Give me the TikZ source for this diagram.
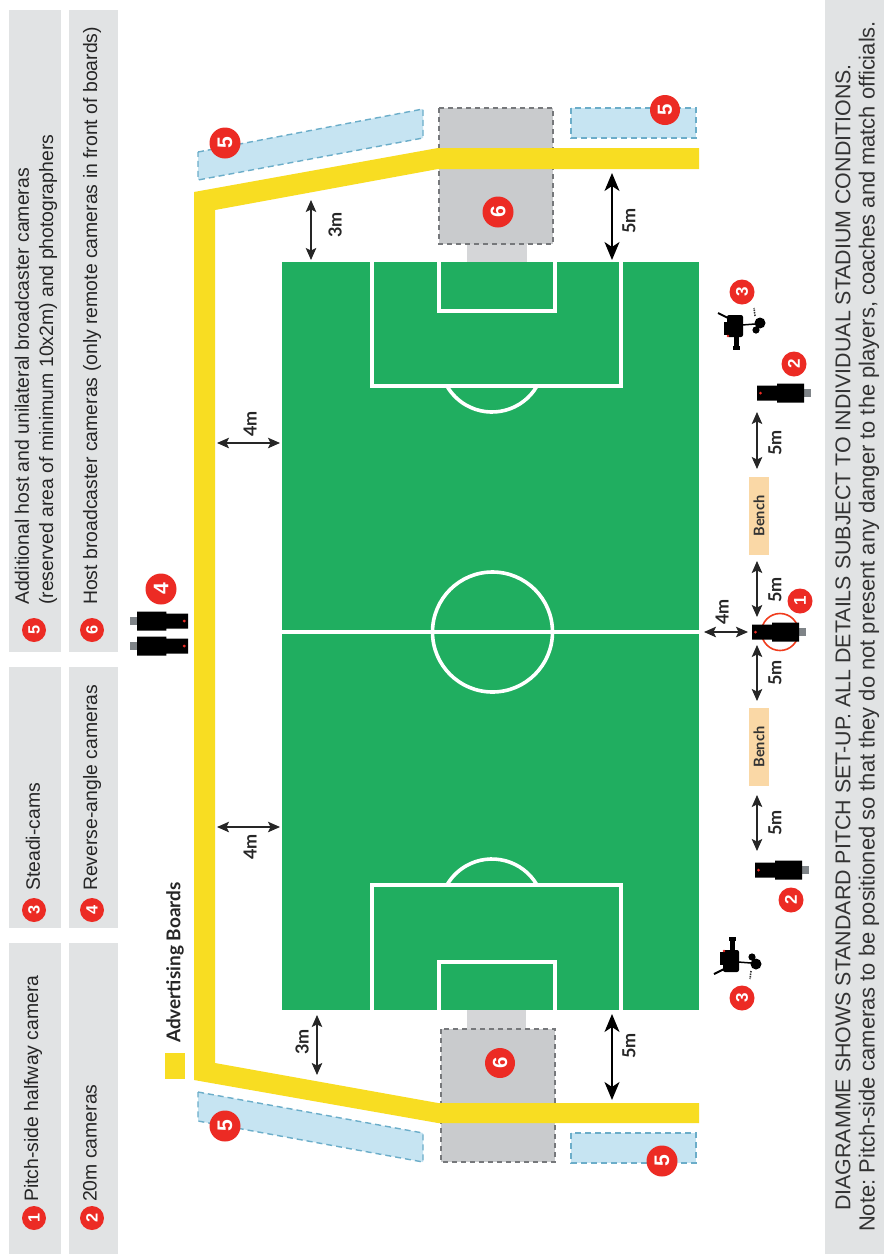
\documentclass[tikz,border=0pt]{standalone}
\usepackage{fontspec}
\setmainfont{Liberation Sans}
\newfontfamily\lab{Lato}
\usetikzlibrary{arrows.meta}
\frenchspacing
\definecolor{pitch}{HTML}{20AE60}
\definecolor{board}{HTML}{F8DD22}
\definecolor{panel}{HTML}{E1E3E4}
\definecolor{zoneb}{HTML}{C6E4F2}
\definecolor{zonebd}{HTML}{6BADC9}
\definecolor{zoneg}{HTML}{C9CBCD}
\definecolor{zonegd}{HTML}{76787B}
\definecolor{stub}{HTML}{D5D6D8}
\definecolor{benchc}{HTML}{FAD8A6}
\definecolor{badgec}{HTML}{EC2B24}
\definecolor{camg}{HTML}{7F8488}
\tikzset{
  panelbox/.style={fill=panel,draw=none},
  pline/.style={draw=white,line width=3.6pt},
  bluezone/.style={fill=zoneb,draw=zonebd,line width=1.4pt,dash pattern=on 6pt off 4pt},
  grayzone/.style={fill=zoneg,draw=zonegd,line width=2.2pt,dash pattern=on 5pt off 4pt},
  badge/.style={circle,fill=badgec,text=white,inner sep=0pt,minimum size=#1 pt,rotate=90,font=\bfseries\fontsize{\fpeval{0.68*#1}}{#1}\selectfont},
  legtext/.style={rotate=90,anchor=west,inner sep=0pt,text=black!85,font=\fontsize{19.4}{22}\selectfont},
  notetext/.style={rotate=90,anchor=west,inner sep=0pt,text=black!80,font=\fontsize{#1}{24}\selectfont},
  dimlabel/.style={rotate=90,inner sep=0pt,text=black!85,font=\lab\bfseries\fontsize{18}{20}\selectfont},
  dim/.style={{Stealth[length=12pt,width=10.5pt,inset=2.5pt]}-{Stealth[length=12pt,width=10.5pt,inset=2.5pt]},line width=1.3pt,draw=black!85},
  dimbig/.style={{Stealth[length=18pt,width=15pt,inset=5pt]}-{Stealth[length=18pt,width=15pt,inset=5pt]},line width=1.8pt,draw=black},
  benchbox/.style={fill=benchc,rotate=90,inner sep=0pt,minimum width=78pt,minimum height=20pt,text=black!80,font=\lab\bfseries\fontsize{14.6}{16}\selectfont},
}
% camera: #1 = lens-end x, #2 = centre y, #3 = direction and length factor
\newcommand{\cam}[3]{%
  \begin{scope}[shift={(#1,#2)},xscale=#3]
    \fill[camg] (46,-4) rectangle (54,4);
    \fill[black] (0,-7.5) -- (20,-7.5) -- (20,-9.5) -- (47,-9.5) -- (47,9.5) -- (20,9.5) -- (20,7.5) -- (0,7.5) -- cycle;
    \fill[badgec] (3.5,0) circle (1.5);
  \end{scope}}
% steadicam in local coordinates
\newcommand{\steadi}[3]{%
  \begin{scope}[shift={(#1,#2)},yscale=#3]
    \fill[black,rounded corners=2pt] (-10,-12) rectangle (6,10);
    \fill[black] (-13,-5) rectangle (-9,8);
    \fill[black] (-3,8) rectangle (2,21);
    \fill[black] (-4,19) rectangle (3,23);
    \draw[black,line width=2pt] (-19,-14) -- (-7,-8);
    \draw[black,line width=1.5pt] (5,-2) -- (18,-3);
    \fill[black] (23,-4) circle (5.5);
    \fill[black] (19,3) circle (3.6);
    \draw[black!80,line width=1.6pt,dash pattern=on 1.5pt off 1pt] (18,-11) -- (17,-19);
    \fill[badgec] (-9,9) circle (1.3);
  \end{scope}}
\newcommand{\dimarrow}[6]{% style, name, from, to, label pos, label
  \coordinate (#2a) at #3;
  \coordinate (#2b) at #4;
  \draw[#1] (#2a) -- (#2b);
  \node[dimlabel] (#2l) at #5 {#6};}
\begin{document}
\begin{tikzpicture}[x=1pt,y=-1pt]
\useasboundingbox (0,0) rectangle (884,1254);
\fill[white] (0,0) rectangle (884,1254);
% legend panels
\fill[panelbox] (9,10) rectangle (61,652);
\fill[panelbox] (69,10) rectangle (118,652);
\fill[panelbox] (9,667) rectangle (61,928);
\fill[panelbox] (69,667) rectangle (118,928);
\fill[panelbox] (9,943) rectangle (61,1254);
\fill[panelbox] (69,943) rectangle (118,1254);
\fill[panelbox] (825,0) rectangle (884,1254);
% zones
\draw[bluezone] (198,152) -- (423,109) -- (423,138) -- (198,180) -- cycle;
\draw[bluezone] (198,1092) -- (423,1133) -- (423,1162) -- (198,1121) -- cycle;
\draw[bluezone] (571,108) rectangle (696,138);
\draw[bluezone] (571,1133) rectangle (696,1163);
\fill[stub] (467,243) rectangle (527,262);
\fill[stub] (467,1010) rectangle (526,1029);
\draw[grayzone] (439,108) rectangle (553,244);
\draw[grayzone] (441,1029) rectangle (555,1162);
% boards
\fill[board] (699,148) -- (438,148) -- (194,192) -- (194,1080) -- (438,1123) -- (699,1123) -- (699,1103) -- (438,1103) -- (215,1063) -- (215,210) -- (438,169) -- (699,169) -- cycle;
\fill[board] (165,1053) rectangle (185,1079);
\node[dimlabel,font=\lab\bfseries\fontsize{19}{21}\selectfont,anchor=west] (adv) at (175,1043) {Advertising Boards};
% pitch
\fill[pitch] (282,262) rectangle (699,1010);
\draw[pline] (282,632) -- (699,632);
\draw[pline] (492.5,632) circle (60);
\draw[pline] (372,262) |- (621,386) -- (621,262);
\draw[pline] (439,262) |- (555,311) -- (555,262);
\draw[pline] (537,386) arc[start angle=30,end angle=150,radius=52];
\draw[pline] (372,1010) |- (621,885) -- (621,1010);
\draw[pline] (439,1010) |- (555,962) -- (555,1010);
\draw[pline] (537,885) arc[start angle=-30,end angle=-150,radius=52];
% dimensions
\dimarrow{dim}{dA}{(311,200)}{(311,260)}{(335,225)}{3m}
\dimarrow{dimbig}{dB}{(612,173)}{(612,260)}{(629,221)}{5m}
\dimarrow{dim}{dC}{(217,443)}{(280,443)}{(250,424)}{4m}
\dimarrow{dim}{dD}{(217,827)}{(280,827)}{(250,847)}{4m}
\dimarrow{dim}{dE}{(317,1015)}{(317,1075)}{(302,1042)}{3m}
\dimarrow{dimbig}{dF}{(612,1014)}{(612,1100)}{(629,1046)}{5m}
\dimarrow{dim}{dG}{(704,632)}{(748,632)}{(722,612)}{4m}
\dimarrow{dim}{dH}{(757,561)}{(757,617)}{(775,590)}{5m}
\dimarrow{dim}{dI}{(757,645)}{(757,701)}{(775,673)}{5m}
\dimarrow{dim}{dJ}{(757,795)}{(757,851)}{(775,823)}{5m}
\dimarrow{dim}{dK}{(757,412)}{(757,469)}{(775,443)}{5m}
% benches
\node[benchbox] (bench1) at (759,516) {Bench};
\node[benchbox] (bench2) at (759,747) {Bench};
% cameras
\draw[draw=badgec!80!orange,line width=1.6pt] (780,632) circle (18.5);
\cam{752}{632}{1}
\cam{757}{393}{1}
\cam{755}{870}{1}
\cam{188}{621}{-1.08}
\cam{188}{646}{-1.08}
\steadi{737}{327}{1}
\steadi{733}{960}{-1}
% badges
\node[badge=31] (b5a) at (225,143) {5};
\node[badge=30] (b5b) at (665,110) {5};
\node[badge=31] (b6a) at (498,212) {6};
\node[badge=30] (b6b) at (500,1063) {6};
\node[badge=31] (b5c) at (225,1126) {5};
\node[badge=31] (b5d) at (662,1161) {5};
\node[badge=31] (b4) at (161,589) {4};
\node[badge=25] (b1) at (800,601) {1};
\node[badge=25] (b3a) at (742,292) {3};
\node[badge=25] (b2a) at (794,364) {2};
\node[badge=25] (b2b) at (791,900) {2};
\node[badge=25] (b3b) at (742,998) {3};
\node[badge=24] (l1) at (34,1218) {1};
\node[badge=24] (l2) at (92,1218) {2};
\node[badge=24] (l3) at (34,910) {3};
\node[badge=24] (l4) at (92,910) {4};
\node[badge=24] (l5) at (34,630) {5};
\node[badge=24] (l6) at (92,630) {6};
% legend text
\node[legtext] (t1) at (33,1202) {Pitch-side halfway camera};
\node[legtext] (t2) at (90,1202) {20m cameras};
\node[legtext] (t3) at (33,891) {Steadi-cams};
\node[legtext] (t4) at (92,891) {Reverse-angle cameras};
\node[legtext] (t5a) at (22,605) {Additional host and unilateral broadcaster cameras};
\node[legtext] (t5b) at (48,605) {(reserved area of minimum 10x2m) and photographers};
\node[legtext] (t6) at (92,605) {Host broadcaster cameras (only remote cameras in front of boards)};
% notes
\node[notetext=21.4] (n1) at (843,1211) {DIAGRAMME SHOWS STANDARD PITCH SET-UP. ALL DETAILS SUBJECT TO INDIVIDUAL STADIUM CONDITIONS.};
\node[notetext=21.9] (n2) at (869,1232) {Note: Pitch-side cameras to be positioned so that they do not present any danger to the players, coaches and match officials.};
\end{tikzpicture}
\end{document}
